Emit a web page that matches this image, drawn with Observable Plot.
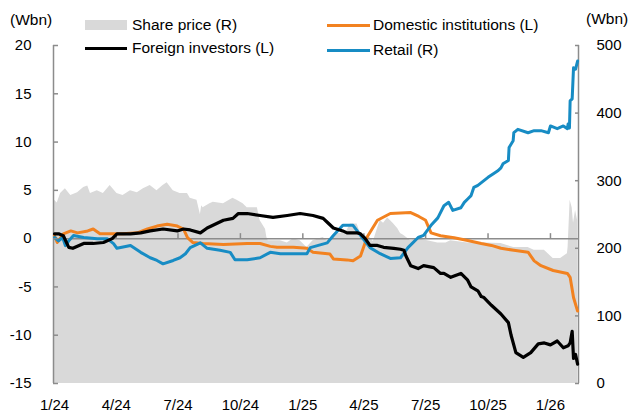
<!DOCTYPE html>
<html>
<head>
<meta charset="utf-8">
<script src="https://cdn.jsdelivr.net/npm/d3@7"></script>
<script src="https://cdn.jsdelivr.net/npm/@observablehq/plot@0.6"></script>
<style>
  body { margin: 0; background: #fff; }
  #wrap { position: relative; width: 632px; height: 414px; font-family: "Liberation Sans", Arial, sans-serif; color: #000; }
  .lab { position: absolute; font-size: 15.5px; line-height: 18px; white-space: nowrap; }
  .sw { position: absolute; }
</style>
</head>
<body>
<div id="wrap"></div>
<script>
// ---------- data ----------
const leftTicks = [-15, -10, -5, 0, 5, 10, 15, 20];
const rightTicks = [0, 100, 200, 300, 400, 500];
const legendLabels = ["Share price (R)", "Domestic institutions (L)", "Foreign investors (L)", "Retail (R)"];

// Share price (right axis)
const priceDates = ["2024-01-01","2024-01-05","2024-01-10","2024-01-17","2024-01-25","2024-02-04","2024-02-13","2024-02-19","2024-02-23","2024-03-04","2024-03-13","2024-03-23","2024-04-02","2024-04-11","2024-04-22","2024-05-02","2024-05-11","2024-05-21","2024-05-31","2024-06-09","2024-06-15","2024-06-24","2024-07-04","2024-07-15","2024-07-19","2024-07-29","2024-08-03","2024-08-05","2024-08-07","2024-08-17","2024-08-22","2024-09-06","2024-09-20","2024-09-26","2024-10-05","2024-10-11","2024-10-26","2024-10-30","2024-11-07","2024-11-09","2024-11-11","2024-11-24","2024-11-29","2024-12-09","2024-12-18","2024-12-28","2025-01-07","2025-01-16","2025-01-31","2025-02-06","2025-02-21","2025-02-25","2025-03-07","2025-03-12","2025-03-22","2025-03-27","2025-03-31","2025-04-10","2025-04-15","2025-04-21","2025-04-25","2025-04-30","2025-05-06","2025-05-10","2025-05-15","2025-05-21","2025-05-25","2025-05-30","2025-06-09","2025-06-20","2025-07-04","2025-07-19","2025-07-31","2025-08-07","2025-09-01","2025-09-25","2025-10-20","2025-11-08","2025-11-29","2025-12-08","2025-12-23","2026-01-05","2026-01-16","2026-01-26","2026-01-27","2026-01-30","2026-02-02","2026-02-04","2026-02-07","2026-02-10"];
const priceValues = [271,267,281,288,278,282,290,292,281,285,281,293,281,278,285,282,288,293,285,293,297,285,281,281,274,271,250,263,260,266,268,266,274,271,266,260,260,241,228,216,211,211,211,208,214,211,201,211,216,211,222,222,226,236,236,222,219,216,210,229,241,237,245,241,236,229,222,219,211,214,211,208,208,211,208,208,207,201,201,197,197,185,185,192,201,271,260,237,256,241];

// Foreign investors (left axis, Wbn)
const foreignDates = ["2024-01-01","2024-01-07","2024-01-14","2024-01-22","2024-01-28","2024-02-13","2024-02-27","2024-03-13","2024-03-26","2024-04-02","2024-04-22","2024-05-07","2024-05-21","2024-06-09","2024-06-30","2024-07-09","2024-07-19","2024-08-03","2024-08-13","2024-09-06","2024-09-20","2024-09-28","2024-10-11","2024-10-30","2024-11-18","2024-12-09","2024-12-28","2025-01-16","2025-01-31","2025-02-06","2025-02-15","2025-03-01","2025-03-07","2025-03-22","2025-03-27","2025-04-03","2025-04-10","2025-04-21","2025-04-30","2025-05-15","2025-05-25","2025-05-30","2025-06-02","2025-06-09","2025-06-20","2025-06-28","2025-07-13","2025-07-23","2025-07-28","2025-08-07","2025-08-22","2025-09-01","2025-09-06","2025-09-16","2025-09-21","2025-09-25","2025-10-06","2025-10-20","2025-10-31","2025-11-04","2025-11-11","2025-11-22","2025-12-03","2025-12-14","2025-12-23","2026-01-01","2026-01-11","2026-01-20","2026-01-27","2026-01-30","2026-02-02","2026-02-04","2026-02-07","2026-02-10"];
const foreignValues = [0.5,0.5,0.3,-0.9,-1.0,-0.5,-0.5,-0.4,0.0,0.5,0.5,0.6,0.8,1.0,0.8,1.0,0.9,0.6,1.1,1.9,2.1,2.6,2.6,2.4,2.2,2.4,2.6,2.4,2.1,1.7,1.1,0.8,0.6,0.6,0.5,0.0,-0.7,-0.7,-0.9,-1.0,-1.1,-1.2,-1.8,-2.8,-3.1,-2.8,-3.0,-3.6,-3.6,-4.0,-3.6,-4.3,-5.0,-5.4,-6.0,-6.1,-6.9,-7.8,-8.7,-10.0,-11.8,-12.3,-11.8,-10.9,-10.8,-11.0,-10.6,-11.3,-11.1,-10.8,-9.6,-12.4,-12.0,-13.0];

// Domestic institutions (left axis, Wbn)
const domesticDates = ["2024-01-01","2024-01-05","2024-01-14","2024-01-25","2024-02-04","2024-02-19","2024-02-27","2024-03-08","2024-03-28","2024-04-11","2024-05-02","2024-05-17","2024-05-31","2024-06-15","2024-06-30","2024-07-09","2024-07-15","2024-07-23","2024-08-07","2024-09-06","2024-10-11","2024-10-30","2024-11-14","2024-11-24","2024-12-18","2025-01-07","2025-01-16","2025-02-10","2025-02-15","2025-03-07","2025-03-16","2025-03-27","2025-03-31","2025-04-06","2025-04-21","2025-05-10","2025-06-09","2025-06-21","2025-07-01","2025-07-09","2025-07-23","2025-08-12","2025-09-01","2025-09-21","2025-10-06","2025-10-20","2025-11-08","2025-11-29","2025-12-08","2025-12-18","2026-01-05","2026-01-26","2026-01-30","2026-02-04","2026-02-10"];
const domesticValues = [0.3,-0.4,0.5,0.8,0.6,0.8,1.0,0.5,0.5,0.5,0.6,1.0,1.3,1.5,1.3,1.0,0.1,-0.4,-0.5,-0.6,-0.5,-0.5,-0.8,-0.9,-0.9,-1.0,-1.4,-1.6,-2.1,-2.2,-2.3,-1.8,-1.0,0.2,1.9,2.6,2.7,2.3,1.9,0.6,0.3,0.1,-0.2,-0.5,-0.7,-1.0,-1.2,-1.4,-2.3,-2.8,-3.3,-3.6,-4.0,-6.1,-7.5];

// Retail (right axis)
const retailDates = ["2024-01-01","2024-01-07","2024-01-13","2024-01-17","2024-01-22","2024-01-29","2024-02-13","2024-03-04","2024-03-19","2024-03-28","2024-04-02","2024-04-22","2024-05-07","2024-05-21","2024-05-31","2024-06-09","2024-06-24","2024-07-04","2024-07-12","2024-07-19","2024-08-03","2024-08-13","2024-09-01","2024-09-16","2024-09-23","2024-10-11","2024-10-30","2024-11-14","2024-11-29","2024-12-18","2025-01-07","2025-01-12","2025-02-06","2025-02-15","2025-03-01","2025-03-16","2025-03-31","2025-04-10","2025-04-25","2025-05-10","2025-05-25","2025-06-05","2025-06-20","2025-06-28","2025-07-09","2025-07-19","2025-07-28","2025-08-04","2025-08-10","2025-08-22","2025-08-27","2025-09-01","2025-09-06","2025-09-10","2025-09-16","2025-10-01","2025-10-10","2025-10-16","2025-10-20","2025-10-23","2025-10-31","2025-11-01","2025-11-07","2025-11-08","2025-11-14","2025-11-29","2025-12-08","2025-12-18","2025-12-29","2026-01-01","2026-01-11","2026-01-20","2026-01-26","2026-01-27","2026-01-29","2026-01-30","2026-02-02","2026-02-04","2026-02-07","2026-02-10"];
const retailValues = [216,211,216,204,211,219,216,214,214,207,200,204,194,186,182,177,182,186,192,201,208,200,197,194,183,183,186,194,192,192,192,201,208,219,234,234,214,201,192,185,186,201,216,219,234,245,263,268,256,260,268,273,278,290,293,305,311,315,319,325,330,349,359,371,376,371,374,374,371,381,377,381,377,384,378,418,421,467,465,477];

// ---------- build ----------
const parse = d3.utcParse("%Y-%m-%d");
const toLeft = r => r * 35 / 500 - 15;           // right-axis value -> left-axis position
const fromLeft = l => Math.round((l + 15) * 500 / 35);
const mk = (ds, vs) => ds.map((d, i) => ({date: parse(d), value: vs[i]}));
const price = mk(priceDates, priceValues);
const foreign = mk(foreignDates, foreignValues);
const domestic = mk(domesticDates, domesticValues);
const retail = mk(retailDates, retailValues);

const xStart = new Date(Date.UTC(2023, 11, 30, 12));
const xEnd = new Date(Date.UTC(2026, 1, 11, 8));
const quarters = d3.utcMonth.every(3).range(new Date(Date.UTC(2024, 0, 1)), new Date(Date.UTC(2026, 1, 1)));
const qFmt = d => `${d.getUTCMonth() + 1}/${String(d.getUTCFullYear()).slice(2)}`;

const AX = "#8c8c8c";
const chart = Plot.plot({
  width: 632, height: 414,
  marginLeft: 53, marginRight: 54, marginTop: 45, marginBottom: 31,
  style: {fontFamily: "'Liberation Sans', Arial, sans-serif", fontSize: "15px", color: "#000", background: "transparent"},
  x: {type: "utc", domain: [xStart, xEnd]},
  y: {domain: [-15, 20]},
  marks: [
    Plot.areaY(price, {x: "date", y1: -15, y2: d => toLeft(d.value), fill: "#d9d9d9", curve: "linear"}),
    Plot.ruleY([0], {stroke: AX, strokeWidth: 1.5}),
    Plot.ruleX(quarters, {x: d => d, y1: 0, y2: 0, insetTop: -5, stroke: AX, strokeWidth: 1.5}),
    Plot.ruleX([xStart], {stroke: AX, strokeWidth: 1.5}),
    Plot.ruleX([xEnd], {stroke: AX, strokeWidth: 1.5}),
    Plot.line(domestic, {x: "date", y: "value", stroke: "#f28220", strokeWidth: 3, strokeLinejoin: "round"}),
    Plot.line(retail, {x: "date", y: d => toLeft(d.value), stroke: "#178cc4", strokeWidth: 3, strokeLinejoin: "round"}),
    Plot.line(foreign, {x: "date", y: "value", stroke: "#000", strokeWidth: 3.2, strokeLinejoin: "round"}),
    Plot.axisY({anchor: "left", ticks: leftTicks, tickSize: -5, tickPadding: 27, stroke: AX, strokeWidth: 1.5, label: null, tickFormat: d => String(d), fill: "#000"}),
    Plot.axisY({anchor: "right", ticks: rightTicks.map(toLeft), tickSize: -4, tickPadding: 22, stroke: AX, strokeWidth: 1.5, label: null, tickFormat: fromLeft, fill: "#000"}),
    Plot.axisX({anchor: "bottom", ticks: quarters, tickSize: 0, tickPadding: 16, tickFormat: qFmt, label: null, fill: "#000"})
  ]
});
const wrap = document.getElementById("wrap");
chart.style.position = "absolute";
chart.style.left = "0px";
chart.style.top = "0px";
wrap.appendChild(chart);

// legend + unit labels (HTML overlay)
function add(html, css, cls) {
  const el = document.createElement("div");
  el.className = cls;
  el.textContent = html;
  Object.assign(el.style, css);
  wrap.appendChild(el);
  return el;
}
add("(Wbn)", {left: "10px", top: "11px"}, "lab");
add("(Wbn)", {left: "586px", top: "10px"}, "lab");
add("", {left: "85px", top: "20px", width: "42px", height: "10px", background: "#d9d9d9"}, "sw");
add(legendLabels[0], {left: "132px", top: "16px"}, "lab");
add("", {left: "327px", top: "23.5px", width: "43px", height: "3px", background: "#f28220"}, "sw");
add(legendLabels[1], {left: "373px", top: "16px"}, "lab");
add("", {left: "85px", top: "46.5px", width: "42px", height: "3px", background: "#000"}, "sw");
add(legendLabels[2], {left: "132px", top: "39px"}, "lab");
add("", {left: "327px", top: "48.5px", width: "43px", height: "3px", background: "#178cc4"}, "sw");
add(legendLabels[3], {left: "373px", top: "41px"}, "lab");
</script>
</body>
</html>
